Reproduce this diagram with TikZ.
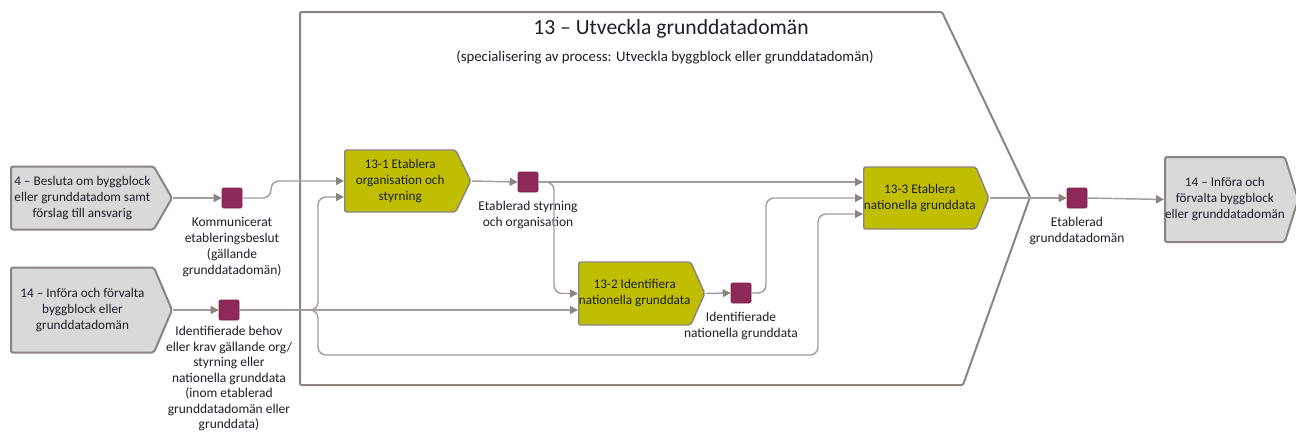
\documentclass[tikz,border=0pt]{standalone}
\usepackage{fontspec}
\setmainfont{Carlito}
\usetikzlibrary{shapes.symbols,arrows.meta,calc}
\definecolor{boxline}{HTML}{8C8482}
\definecolor{flowline}{HTML}{A39D9B}
\definecolor{extgray}{HTML}{D9D9D9}
\definecolor{procgreen}{HTML}{BFBE00}
\definecolor{itemred}{HTML}{8E2A58}
\definecolor{ink}{HTML}{1E1E2A}
\tikzset{
	txt/.style={font=\fontsize{9.9}{12}\selectfont, text=ink, align=center},
	ext/.style={txt, signal, signal to=east, draw=boxline, fill=extgray, line width=1.5pt,
		rounded corners=1.5pt, inner sep=0pt, anchor=west},
	proc/.style={ext, fill=procgreen, line width=1.1pt},
	item/.style={rectangle, fill=itemred, draw=itemred!85!black, line width=0.4pt,
		rounded corners=1pt, minimum size=15pt, inner sep=0pt},
	lbl/.style={txt, font=\fontsize{10.1}{12}\selectfont, anchor=north, inner sep=0pt, yshift=-6.5pt},
	flow/.style={draw=flowline, line width=1.1pt, rounded corners=6pt,
		-{Triangle[length=6pt,width=6pt,color=boxline,fill=boxline]}}
}
\begin{document}
\begin{tikzpicture}[x=0.75pt,y=-0.75pt]
	\useasboundingbox (0,0) rectangle (1296,432);
	\draw[boxline, line width=1.5pt, rounded corners=1pt]
		(300,12) -- (942,12) -- (1030,197) -- (963,385) -- (300,385) -- cycle;
	\node[txt, font=\fontsize{16.2}{18}\selectfont] (T) at (671,29) {13 – Utveckla grunddatadomän};
	\node[txt, font=\fontsize{11.1}{13}\selectfont] (S) at (665,57) {(specialisering av process: Utveckla byggblock eller grunddatadomän)};

	\node[ext, minimum width=120.75pt, minimum height=47.25pt, signal pointer angle=120] (in1) at (10,198)
		{4 – Besluta om byggblock\\eller grunddatadom samt\\förslag till ansvarig};
	\node[ext, minimum width=120.75pt, minimum height=63.75pt, signal pointer angle=134] (in2) at (10,310)
		{14 – Införa och förvalta\\byggblock eller\\grunddatadomän};
	\node[proc, minimum width=94.5pt, minimum height=46.5pt, signal pointer angle=128] (p1) at (344,181)
		{13-1 Etablera\\organisation och\\styrning};
	\node[proc, minimum width=94.5pt, minimum height=47.25pt, signal pointer angle=132] (p2) at (578,293.5)
		{13-2 Identifiera\\nationella grunddata};
	\node[proc, minimum width=93.75pt, minimum height=46.5pt, signal pointer angle=135] (p3) at (863,198)
		{13-3 Etablera\\nationella grunddata};
	\node[ext, minimum width=99pt, minimum height=63.75pt, signal pointer angle=145] (ut) at (1164,199.5)
		{14 – Införa och\\förvalta byggblock\\eller grunddatadomän};

	\node[item] (s1) at (232,198) {};
	\node[item] (s2) at (229,310) {};
	\node[item] (s3) at (528,182) {};
	\node[item] (s4) at (741,293) {};
	\node[item] (s5) at (1077,198) {};
	\node[lbl] (l1) at (s1.south) {Kommunicerat\\etableringsbeslut\\(gällande\\grunddatadomän)};
	\node[lbl, font=\fontsize{10.1}{11.6}\selectfont, yshift=2pt] (l2) at (s2.south) {Identifierade behov\\eller krav gällande org/\\styrning eller\\nationella grunddata\\(inom etablerad\\grunddatadomän eller\\grunddata)};
	\node[lbl] (l3) at (s3.south) {Etablerad styrning\\och organisation};
	\node[lbl] (l4) at (s4.south) {Identifierade\\nationella grunddata};
	\node[lbl] (l5) at (s5.south) {Etablerad\\grunddatadomän};

	\coordinate (k1) at (271,198);
	\coordinate (k2) at (318,310);
	\coordinate (k3) at (818,355);
	\coordinate (k4) at (554,182);
	\coordinate (k5) at (766,293);
	\draw[flow] (in1.east) -- (s1.west);
	\draw[flow] (s1.east) -- (k1) |- (p1.west);
	\draw[flow] (in2.east) -- (s2.west);
	\draw[flow] (s2.east) -- (s2.east -| p2.west);
	\draw[flow] (s2.east) -- (k2) |- ($(p1.west)+(0,16)$);
	\draw[flow] (s2.east) -- (k2) |- (k3) |- ($(p3.west)+(0,16)$);
	\draw[flow] (p1.east) -- (s3.west);
	\draw[flow] (s3.east) -- (s3.east -| p3.west);
	\draw[flow] (s3.east) -- (k4) |- (p2.west);
	\draw[flow] (p2.east) -- (s4.west);
	\draw[flow] (s4.east) -- (k5) |- (p3.west);
	\draw[flow] (p3.east) -- (s5.west);
	\draw[flow] (s5.east) -- (ut.west);
\end{tikzpicture}
\end{document}
